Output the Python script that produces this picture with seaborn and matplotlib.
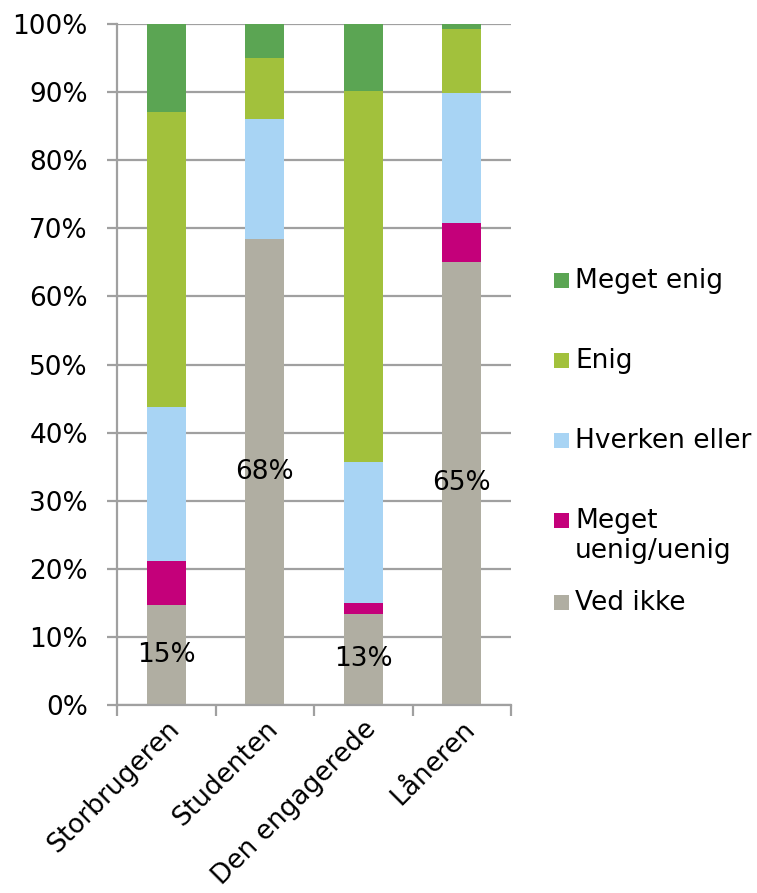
import matplotlib
matplotlib.use("Agg")
import matplotlib.pyplot as plt
import seaborn as sns
import pandas as pd
import numpy as np
from matplotlib.patches import Rectangle
from matplotlib.ticker import FixedLocator

sns.set_style("white")
plt.rcParams["font.family"] = ["DejaVu Sans"]
plt.rcParams["text.color"] = "black"
plt.rcParams["xtick.color"] = "black"
plt.rcParams["ytick.color"] = "black"

categories = ["Storbrugeren", "Studenten", "Den engagerede", "Låneren"]
ved_ikke = [14.7, 68.4, 13.4, 65.1]
meget_uenig = [6.4, 0.0, 1.6, 5.7]
hverken = [22.6, 17.7, 20.7, 19.0]
enig = [43.4, 8.9, 54.4, 9.5]
meget_enig = [12.9, 5.0, 9.9, 0.7]

series_names = ["Ved ikke", "Meget\nuenig/uenig", "Hverken eller", "Enig", "Meget enig"]
colors = ["#B0AEA2", "#C4007A", "#A8D4F4", "#A2C13C", "#5BA553"]
GRID = "#A0A0A0"

df = pd.DataFrame({
    "kategori": categories,
    "Ved ikke": ved_ikke,
    "Meget\nuenig/uenig": meget_uenig,
    "Hverken eller": hverken,
    "Enig": enig,
    "Meget enig": meget_enig,
})
cum = df[series_names].cumsum(axis=1)

fig = plt.figure(figsize=(7.57, 8.93), dpi=100)
ax = fig.add_axes([0.1546, 0.2105, 0.5205, 0.7626])

ax.set_axisbelow(True)
ax.yaxis.grid(True, color=GRID, linewidth=1.6)

# stacked bars: draw cumulative totals from the top layer down
for name, col in reversed(list(zip(series_names, colors))):
    sns.barplot(x=df["kategori"], y=cum[name], color=col, width=0.4,
                saturation=1, linewidth=0, ax=ax)

# data labels for "Ved ikke"
for i, v in enumerate(ved_ikke):
    ax.text(i, v / 2, f"{v:.0f}%", ha="center", va="center", fontsize=19)

ax.set_ylim(0, 100)
ax.set_xlim(-0.5, 3.5)
ax.set_yticks(np.arange(0, 101, 10))
ax.set_yticklabels([f"{t}%" for t in range(0, 101, 10)], fontsize=19)
ax.set_xticks(range(len(categories)))
ax.set_xticklabels(categories, rotation=45, ha="right", rotation_mode="anchor", fontsize=19)
ax.xaxis.set_minor_locator(FixedLocator([-0.5, 0.5, 1.5, 2.5, 3.5]))
ax.tick_params(axis="x", which="major", length=0, pad=8)
ax.tick_params(axis="x", which="minor", length=8, width=1.6, color=GRID, direction="out", bottom=True)
ax.tick_params(axis="y", length=7, width=1.6, color=GRID, direction="out", left=True, pad=14)
ax.set_xlabel("")
ax.set_ylabel("")

for s in ["top", "right"]:
    ax.spines[s].set_visible(False)
for s in ["left", "bottom"]:
    ax.spines[s].set_color(GRID)
    ax.spines[s].set_linewidth(1.6)

# legend, laid out like the original (marker aligned with first text line)
W, H = 757, 893
legend_rows = [("Meget enig", colors[4], 280),
               ("Enig", colors[3], 360),
               ("Hverken eller", colors[2], 440),
               ("Meget\nuenig/uenig", colors[1], 520),
               ("Ved ikke", colors[0], 602)]
for label, col, ypix in legend_rows:
    fig.add_artist(Rectangle((554 / W, 1 - (ypix + 7.5) / H), 15 / W, 15 / H,
                             facecolor=col, edgecolor="none", transform=fig.transFigure))
    fig.text(575 / W, 1 - (ypix - 12) / H, label, ha="left", va="top",
             fontsize=19, linespacing=1.2)

fig.savefig("out.png", dpi=100)
